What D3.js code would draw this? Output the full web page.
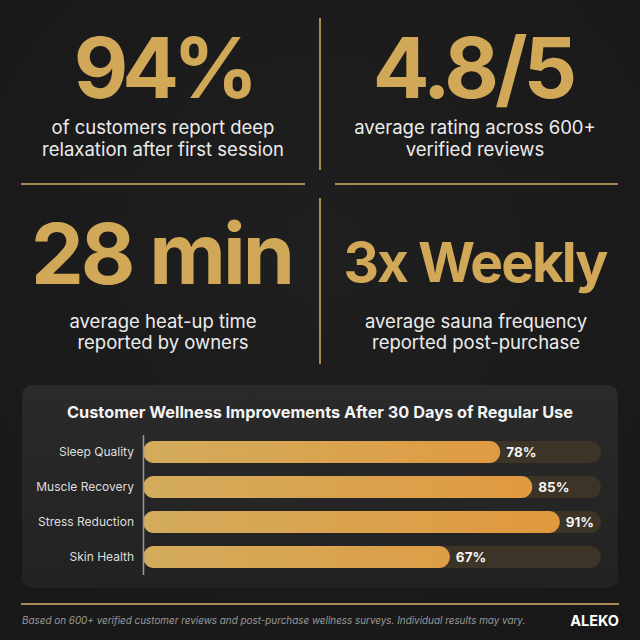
<!DOCTYPE html>
<html>
<head>
<meta charset="utf-8">
<script src="https://cdn.jsdelivr.net/npm/d3@7"></script>
<style>
  html, body { margin: 0; padding: 0; background: #1b1b1b; }
  svg { display: block; font-family: Inter, "Noto Sans", sans-serif; }
</style>
</head>
<body>
<div id="chart"></div>
<script>
// headline stats (left-to-right, top-to-bottom)
var statValues = ["94%", "4.8/5", "28 min", "3x Weekly"];
var statCaptions = [
    ["of customers report deep", "relaxation after first session"],
    ["average rating across 600+", "verified reviews"],
    ["average heat-up time", "reported by owners"],
    ["average sauna frequency", "reported post-purchase"]
];

// bar chart
var categories = ["Sleep Quality", "Muscle Recovery", "Stress Reduction", "Skin Health"];
var improvements = [78, 85, 91, 67];

var chartTitle = "Customer Wellness Improvements After 30 Days of Regular Use";
var footNote = "Based on 600+ verified customer reviews and post-purchase wellness surveys. Individual results may vary.";
var brand = "ALEKO";

var W = 640, H = 640;
var GOLD = "#d1a858";
var LINE = "#a88a55";

var svg = d3.select("#chart")
    .append("svg")
    .attr("width", W)
    .attr("height", H);

var defs = svg.append("defs");

var bg = defs.append("radialGradient").attr("id", "bg").attr("cx", "50%").attr("cy", "40%").attr("r", "75%");
bg.append("stop").attr("offset", "0%").attr("stop-color", "#1f1f1f");
bg.append("stop").attr("offset", "100%").attr("stop-color", "#181818");

var panelGrad = defs.append("linearGradient").attr("id", "panel").attr("x1", 0).attr("y1", 0).attr("x2", 0).attr("y2", 1);
panelGrad.append("stop").attr("offset", "0%").attr("stop-color", "#2a2a2a");
panelGrad.append("stop").attr("offset", "100%").attr("stop-color", "#222222");

var barGrad = defs.append("linearGradient").attr("id", "bar")
    .attr("gradientUnits", "userSpaceOnUse")
    .attr("x1", 143).attr("x2", 601).attr("y1", 0).attr("y2", 0);
barGrad.append("stop").attr("offset", "0%").attr("stop-color", "#d3ac5c");
barGrad.append("stop").attr("offset", "100%").attr("stop-color", "#e3963c");

svg.append("rect")
    .attr("width", W)
    .attr("height", H)
    .attr("fill", "url(#bg)");

// ---- stat blocks ----
var blockX = [166, 475, 163, 476];
var numY = [98, 98, 284, 282];
var numSize = [84, 84, 84, 55];
var numSpacing = [-6, -4, -3, -2];
var capY = [[128, 150], [128, 150], [322, 343], [322, 343]];
var captionX = [163, 475, 163, 476];

statValues.forEach(function (v, i) {
    svg.append("text")
        .attr("x", blockX[i])
        .attr("y", numY[i])
        // letter-spacing also trails the last glyph, so nudge back to centre
        .attr("dx", numSpacing[i] / 2)
        .attr("text-anchor", "middle")
        .attr("font-size", numSize[i])
        .attr("font-weight", 700)
        .attr("letter-spacing", numSpacing[i])
        .attr("fill", GOLD)
        .text(v);

    statCaptions[i].forEach(function (line, j) {
        svg.append("text")
            .attr("x", captionX[i])
            .attr("y", capY[i][j])
            .attr("dy", "0.35em")
            .attr("text-anchor", "middle")
            .attr("font-size", 18.5)
            .attr("fill", "#ececec")
            .text(line);
    });
});

// dividers
var dividers = [
    [320, 18, 320, 170],
    [320, 198, 320, 364],
    [21, 184, 305, 184],
    [335, 184, 618, 184],
    [21, 604, 619, 604]
];
svg.selectAll(".divider")
    .data(dividers)
    .enter()
    .append("line")
    .classed("divider", true)
    .attr("x1", function (d) { return d[0]; })
    .attr("y1", function (d) { return d[1]; })
    .attr("x2", function (d) { return d[2]; })
    .attr("y2", function (d) { return d[3]; })
    .attr("stroke", LINE)
    .attr("stroke-width", 2);

// ---- chart panel ----
svg.append("rect")
    .attr("x", 22)
    .attr("y", 385)
    .attr("width", 596)
    .attr("height", 203)
    .attr("rx", 10)
    .attr("fill", "url(#panel)");

svg.append("text")
    .attr("x", 320)
    .attr("y", 412)
    .attr("dy", "0.35em")
    .attr("text-anchor", "middle")
    .attr("font-size", 16.3)
    .attr("font-weight", 700)
    .attr("fill", "#f4f4f4")
    .text(chartTitle);

var x = d3.scaleLinear()
    .domain([0, 100])
    .range([143, 601]);

var y = d3.scaleBand()
    .domain(categories)
    .range([434.5, 574.5])
    .paddingInner(0.371)
    .paddingOuter(0.186);

var g = svg.append("g");

// tracks
g.selectAll(".track")
    .data(categories)
    .enter()
    .append("rect")
    .classed("track", true)
    .attr("x", x(0))
    .attr("y", function (d) { return y(d); })
    .attr("width", x(100) - x(0))
    .attr("height", y.bandwidth())
    .attr("rx", y.bandwidth() / 2)
    .attr("fill", "#3b3427");

// bars
g.selectAll(".bar")
    .data(improvements)
    .enter()
    .append("rect")
    .classed("bar", true)
    .attr("x", x(0))
    .attr("y", function (d, i) { return y(categories[i]); })
    .attr("width", function (d) { return x(d) - x(0); })
    .attr("height", y.bandwidth())
    .attr("rx", y.bandwidth() / 2)
    .attr("fill", "url(#bar)");

// value labels
g.selectAll(".val")
    .data(improvements)
    .enter()
    .append("text")
    .classed("val", true)
    .attr("x", function (d) { return x(d) + 6; })
    .attr("y", function (d, i) { return y(categories[i]) + y.bandwidth() / 2; })
    .attr("dy", "0.36em")
    .attr("font-size", 13.5)
    .attr("font-weight", 700)
    .attr("fill", "#f4f4f4")
    .text(function (d) { return d + "%"; });

// category axis
var yAxis = svg.append("g")
    .attr("transform", "translate(" + x(0) + ",0)")
    .call(d3.axisLeft(y).tickSize(0).tickSizeOuter(0).tickPadding(9));

yAxis.select(".domain")
    .attr("stroke", "#9a9a9a")
    .attr("stroke-width", 1.5);
yAxis.selectAll(".tick text")
    .attr("font-family", "Inter, sans-serif")
    .attr("font-size", 12)
    .attr("fill", "#dedede");

// ---- footer ----
svg.append("text")
    .attr("x", 22)
    .attr("y", 621)
    .attr("dy", "0.35em")
    .attr("font-size", 9.9)
    .attr("font-style", "italic")
    .attr("fill", "#9a9a9a")
    .text(footNote);

svg.append("text")
    .attr("x", 619)
    .attr("y", 621)
    .attr("dy", "0.35em")
    .attr("text-anchor", "end")
    .attr("font-size", 14.5)
    .attr("font-weight", 700)
    .attr("fill", "#ffffff")
    .text(brand);
</script>
</body>
</html>
